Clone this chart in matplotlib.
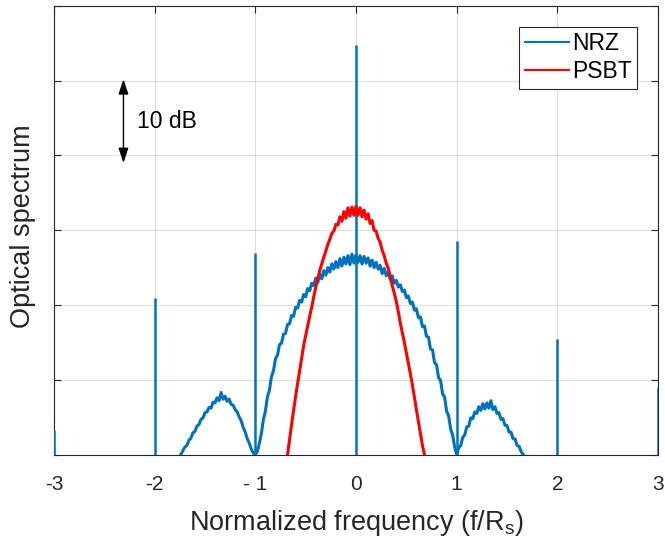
import numpy as np
import matplotlib
matplotlib.use("Agg")
import matplotlib.pyplot as plt

plt.rcParams['font.family'] = ['Liberation Sans', 'DejaVu Sans']
plt.rcParams['mathtext.fontset'] = 'custom'
plt.rcParams['mathtext.rm'] = 'Liberation Sans'
plt.rcParams['mathtext.it'] = 'Liberation Sans'

# ---------------- data (dB, relative to axis bottom) ----------------
nrz_f_start, nrz_f_stop = -1.74, 1.66
nrz_db = [
    0.0, 0.5, 1.0, 1.2, 1.9, 2.2, 2.9, 3.1, 3.8, 4.0,
    4.7, 4.9, 5.6, 5.7, 6.3, 6.2, 7.0, 6.9, 7.6, 7.2,
    8.3, 7.4, 7.8, 7.1, 7.4, 6.7, 6.6, 6.0, 5.7, 5.0,
    4.5, 3.6, 3.0, 2.1, 1.5, 0.7, 0.2, 0.0, 0.4, 1.5,
    2.8, 4.7, 5.8, 7.7, 8.6, 10.4, 11.2, 12.8, 13.3, 14.7,
    14.9, 16.1, 16.2, 17.4, 17.5, 18.6, 18.5, 19.7, 19.6, 20.6,
    20.4, 21.4, 21.1, 22.2, 21.9, 22.9, 22.6, 23.6, 23.0, 24.1,
    23.5, 24.6, 24.0, 25.0, 24.4, 25.5, 24.8, 25.8, 25.0, 26.2,
    25.2, 26.4, 25.5, 26.6, 25.4, 26.8, 25.6, 26.7, 25.7, 26.6,
    25.5, 26.5, 25.6, 26.3, 25.2, 26.0, 25.0, 25.7, 24.8, 25.3,
    24.2, 24.9, 23.9, 24.4, 23.4, 23.9, 22.9, 23.3, 22.4, 22.7,
    21.8, 22.0, 21.0, 21.2, 20.2, 20.4, 19.3, 19.5, 18.3, 18.4,
    17.1, 17.2, 15.8, 15.7, 14.1, 14.0, 12.3, 12.0, 10.3, 9.9,
    8.1, 7.7, 5.8, 5.2, 3.4, 2.6, 1.0, 0.0, 0.9, 1.2,
    2.3, 2.6, 3.7, 3.8, 4.9, 4.8, 5.7, 5.5, 6.4, 5.9,
    6.8, 6.1, 6.9, 6.2, 7.2, 6.0, 6.4, 5.5, 5.6, 4.7,
    4.8, 3.9, 3.9, 3.0, 3.0, 2.1, 2.1, 1.2, 1.1, 0.4,
    0.0,
]

psbt_f_start, psbt_f_stop = -0.68, 0.68
psbt_db = [
    0.0, 2.0, 4.0, 5.9, 7.8, 9.5, 11.2, 12.9, 14.6, 15.9,
    17.2, 18.5, 19.7, 21.1, 22.4, 23.5, 24.6, 25.5, 26.4, 27.2,
    28.1, 28.8, 29.6, 29.9, 30.8, 30.7, 31.8, 31.2, 32.5, 31.6,
    33.0, 31.9, 33.1, 32.0, 33.2, 32.0, 33.0, 31.8, 32.7, 31.5,
    32.2, 30.9, 31.3, 30.0, 29.9, 28.9, 28.4, 27.3, 26.6, 25.6,
    24.9, 23.8, 22.6, 21.6, 20.5, 19.1, 17.6, 16.3, 15.0, 13.6,
    12.2, 10.8, 9.3, 7.7, 6.0, 4.4, 2.8, 1.2, 0.0,
]

# discrete spectral tones of NRZ
tone_f = [-3, -2, -1, 0, 1, 2, 3]
tone_db = [3.3, 20.9, 26.9, 54.8, 28.5, 15.4, 9.0]

xticks = [-3, -2, -1, 0, 1, 2, 3]
xticklabels = ['-3', '-2', '- 1', '0', '1', '2', '3']
yticks = [0, 10, 20, 30, 40, 50, 60]

NRZ_C = '#0072BD'
PSBT_C = '#FF0000'
AX_C = '#262626'

# ---------------- figure ----------------
fig = plt.figure(figsize=(6.65, 5.44), dpi=100)
ax = fig.add_axes([0.0812, 0.1645, 0.9083, 0.8245])

nrz_f = np.linspace(nrz_f_start, nrz_f_stop, len(nrz_db))
psbt_f = np.linspace(psbt_f_start, psbt_f_stop, len(psbt_db))

ax.plot(nrz_f, nrz_db, color=NRZ_C, lw=2.2, label='NRZ', zorder=3)
ax.vlines(tone_f, 0, tone_db, color=NRZ_C, lw=1.8, zorder=3)
ax.plot(psbt_f, psbt_db, color=PSBT_C, lw=2.2, label='PSBT', zorder=4)

ax.set_xlim(-3, 3)
ax.set_ylim(0, 60)
ax.set_xticks(xticks)
ax.set_xticklabels(xticklabels)
ax.set_yticks(yticks)
ax.set_yticklabels([])

ax.grid(True, color=AX_C, alpha=0.15, lw=0.8)
ax.set_axisbelow(True)
for s in ax.spines.values():
    s.set_color(AX_C)
    s.set_linewidth(0.8)
ax.tick_params(direction='in', length=5, width=0.8, color=AX_C,
               top=True, right=True, labelsize=15, labelcolor=AX_C, pad=15)

ax.set_xlabel(r'Normalized frequency (f/R$_\mathrm{s}$)', fontsize=19.5,
              color=AX_C, labelpad=10)
ax.set_ylabel('Optical spectrum', fontsize=19.5, color=AX_C)
ax.yaxis.set_label_coords(-0.029, 0.51)

# 10 dB scale arrow
ax.annotate('', xy=(-2.31, 50.2), xytext=(-2.31, 39.0),
            arrowprops=dict(arrowstyle='<|-|>,head_length=0.9,head_width=0.3',
                            color='black', lw=1.0, shrinkA=0, shrinkB=0))
ax.text(-2.18, 44.6, '10 dB', fontsize=16.5, color='black',
        va='center', ha='left')

leg = ax.legend(loc='upper right', fontsize=16.5, frameon=True, fancybox=False,
                edgecolor=AX_C, framealpha=1, handlelength=1.9,
                handletextpad=0.15, borderpad=0.25, labelspacing=0.2,
                borderaxespad=0.9)
leg.get_frame().set_linewidth(0.8)
for ln in leg.get_lines():
    ln.set_linewidth(1.5)

fig.savefig('out.png', dpi=100)
